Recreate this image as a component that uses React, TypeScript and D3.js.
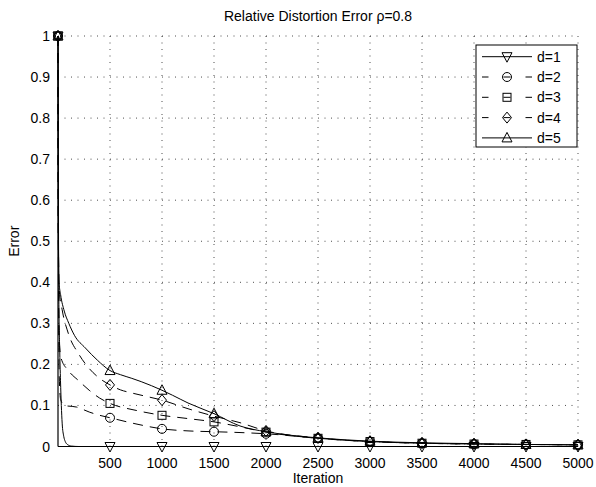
import React from "react";
import * as d3 from "d3";

const W = 596;
const H = 487;

const xTicks = [500, 1000, 1500, 2000, 2500, 3000, 3500, 4000, 4500, 5000];
const yTicks = [0, 0.1, 0.2, 0.3, 0.4, 0.5, 0.6, 0.7, 0.8, 0.9, 1];
const yTickLabels = ["0", "0.1", "0.2", "0.3", "0.4", "0.5", "0.6", "0.7", "0.8", "0.9", "1"];

const seriesNames = ["d=1", "d=2", "d=3", "d=4", "d=5"];

const iterD1 = [0, 8, 16, 24, 32, 40, 55, 70, 90, 130, 200, 500, 1000, 1500, 2000, 2500, 3000, 3500, 4000, 4500, 5000];
const errD1 = [1, 0.36, 0.24, 0.16, 0.1, 0.057, 0.025, 0.012, 0.005, 0.001, 0, 0, 0, 0, 0, 0, 0, 0, 0, 0, 0];

const iterD2 = [0, 4, 12, 25, 60, 180, 300, 400, 500, 750, 1000, 1250, 1500, 1750, 2000, 2500, 3000, 3500, 4000, 4500, 5000];
const errD2 = [1, 0.45, 0.17, 0.115, 0.1, 0.096, 0.084, 0.076, 0.07, 0.055, 0.043, 0.038, 0.036, 0.034, 0.031, 0.02, 0.012, 0.008, 0.006, 0.005, 0.004];

const iterD3 = [0, 4, 12, 30, 100, 200, 300, 400, 500, 750, 1000, 1250, 1500, 1750, 2000, 2500, 3000, 3500, 4000, 4500, 5000];
const errD3 = [1, 0.5, 0.26, 0.215, 0.185, 0.16, 0.137, 0.118, 0.105, 0.088, 0.076, 0.068, 0.06, 0.048, 0.035, 0.02, 0.012, 0.008, 0.006, 0.005, 0.004];

const iterD4 = [0, 4, 12, 40, 100, 200, 300, 400, 500, 600, 700, 850, 1000, 1250, 1500, 1750, 2000, 2500, 3000, 3500, 4000, 4500, 5000];
const errD4 = [1, 0.5, 0.38, 0.333, 0.275, 0.225, 0.19, 0.166, 0.15, 0.138, 0.131, 0.122, 0.113, 0.092, 0.074, 0.058, 0.038, 0.021, 0.012, 0.008, 0.006, 0.005, 0.004];

const iterD5 = [0, 4, 10, 25, 60, 104, 160, 263, 380, 500, 600, 710, 800, 900, 1000, 1100, 1250, 1500, 1750, 2000, 2250, 2500, 3000, 3500, 4000, 4500, 5000];
const errD5 = [1, 0.5, 0.4, 0.37, 0.33, 0.3, 0.27, 0.24, 0.21, 0.185, 0.175, 0.166, 0.158, 0.148, 0.137, 0.125, 0.106, 0.08, 0.05, 0.036, 0.027, 0.021, 0.013, 0.009, 0.007, 0.005, 0.004];

const seriesIters = [iterD1, iterD2, iterD3, iterD4, iterD5];
const seriesErrs = [errD1, errD2, errD3, errD4, errD5];
const seriesDashed = [false, true, true, true, false];
const seriesMarkers = ["triDown", "circle", "square", "diamond", "triUp"];
const markerStep = 500;

const M = { left: 58, right: 578, top: 36, bottom: 446.5 };
const FONT = "'Liberation Sans', Arial, Helvetica, sans-serif";

function Marker({ kind, x, y }: { kind: string; x: number; y: number }) {
  const common = { fill: "none", stroke: "#000", strokeWidth: 1 };
  if (kind === "circle") return <circle cx={x} cy={y} r={4.5} {...common} />;
  if (kind === "square") return <rect x={x - 4} y={y - 4} width={8} height={8} {...common} />;
  if (kind === "diamond")
    return <path d={`M${x},${y - 5.5}L${x + 4.5},${y}L${x},${y + 5.5}L${x - 4.5},${y}Z`} {...common} />;
  if (kind === "triUp")
    return <path d={`M${x},${y - 5.5}L${x + 5},${y + 4}L${x - 5},${y + 4}Z`} {...common} />;
  return <path d={`M${x},${y + 5.5}L${x + 5},${y - 4}L${x - 5},${y - 4}Z`} {...common} />;
}

export default function App() {
  const x = d3.scaleLinear().domain([0, 5000]).range([M.left, M.right]);
  const y = d3.scaleLinear().domain([0, 1]).range([M.bottom, M.top]);
  const line = d3
    .line<[number, number]>()
    .x((d) => x(d[0]))
    .y((d) => y(d[1]))
    .curve(d3.curveMonotoneX);

  const legendX = 476;
  const legendY = 45;
  const legendW = 101;
  const legendH = 102;
  const rowH = 20.3;

  return (
    <svg
      width={W}
      height={H}
      style={{ position: "absolute", left: 0, top: 0, background: "#fff" }}
      fontFamily={FONT}
    >
      <rect x={0} y={0} width={W} height={H} fill="#fff" />
      {xTicks.map((t) => (
        <line
          key={"gx" + t}
          x1={x(t)}
          x2={x(t)}
          y1={M.top}
          y2={M.bottom}
          stroke="#000"
          strokeWidth={0.7}
          strokeDasharray="1,5.5"
        />
      ))}
      {yTicks.slice(1).map((t) => (
        <line
          key={"gy" + t}
          x1={M.left}
          x2={M.right}
          y1={y(t)}
          y2={y(t)}
          stroke="#000"
          strokeWidth={0.7}
          strokeDasharray="1,5.5"
        />
      ))}
      {seriesIters.map((its, i) => {
        const pts = its.map((v, j) => [v, seriesErrs[i][j]] as [number, number]);
        return (
          <path
            key={"s" + i}
            d={line(pts) || ""}
            fill="none"
            stroke="#000"
            strokeWidth={1}
            strokeDasharray={seriesDashed[i] ? "10,7" : undefined}
          />
        );
      })}
      {seriesIters.map((its, i) =>
        its.map((v, j) =>
          v % markerStep === 0 ? (
            <Marker key={`m${i}-${j}`} kind={seriesMarkers[i]} x={x(v)} y={y(seriesErrs[i][j])} />
          ) : null
        )
      )}
      <line x1={M.left} x2={M.left} y1={M.top} y2={M.bottom} stroke="#000" strokeWidth={1.2} />
      <line x1={M.left} x2={M.right} y1={M.bottom} y2={M.bottom} stroke="#000" strokeWidth={1.2} />
      {xTicks.map((t) => (
        <text key={"xl" + t} x={x(t)} y={M.bottom + 21} textAnchor="middle" fontSize={14}>
          {t}
        </text>
      ))}
      {yTicks.map((t, i) => (
        <text key={"yl" + t} x={M.left - 8} y={y(t) + 5} textAnchor="end" fontSize={14}>
          {yTickLabels[i]}
        </text>
      ))}
      <text x={(M.left + M.right) / 2} y={483} textAnchor="middle" fontSize={14}>
        Iteration
      </text>
      <text
        transform={`translate(19,${(M.top + M.bottom) / 2}) rotate(-90)`}
        textAnchor="middle"
        fontSize={14}
      >
        Error
      </text>
      <text x={(M.left + M.right) / 2} y={21} textAnchor="middle" fontSize={14}>
        Relative Distortion Error ρ=0.8
      </text>
      <rect x={legendX} y={legendY} width={legendW} height={legendH} fill="#fff" stroke="#000" strokeWidth={1} />
      {seriesNames.map((name, i) => {
        const cy = legendY + 11.7 + i * rowH;
        return (
          <g key={"lg" + i}>
            {seriesDashed[i] ? (
              <>
                <line x1={482} x2={488.5} y1={cy} y2={cy} stroke="#000" strokeWidth={1} />
                <line x1={503.5} x2={510.5} y1={cy} y2={cy} stroke="#000" strokeWidth={1} />
                <line x1={525.5} x2={532} y1={cy} y2={cy} stroke="#000" strokeWidth={1} />
              </>
            ) : (
              <line x1={482} x2={532} y1={cy} y2={cy} stroke="#000" strokeWidth={1} />
            )}
            <Marker kind={seriesMarkers[i]} x={507} y={cy} />
            <text x={537} y={cy + 5} fontSize={14}>
              {name}
            </text>
          </g>
        );
      })}
    </svg>
  );
}
